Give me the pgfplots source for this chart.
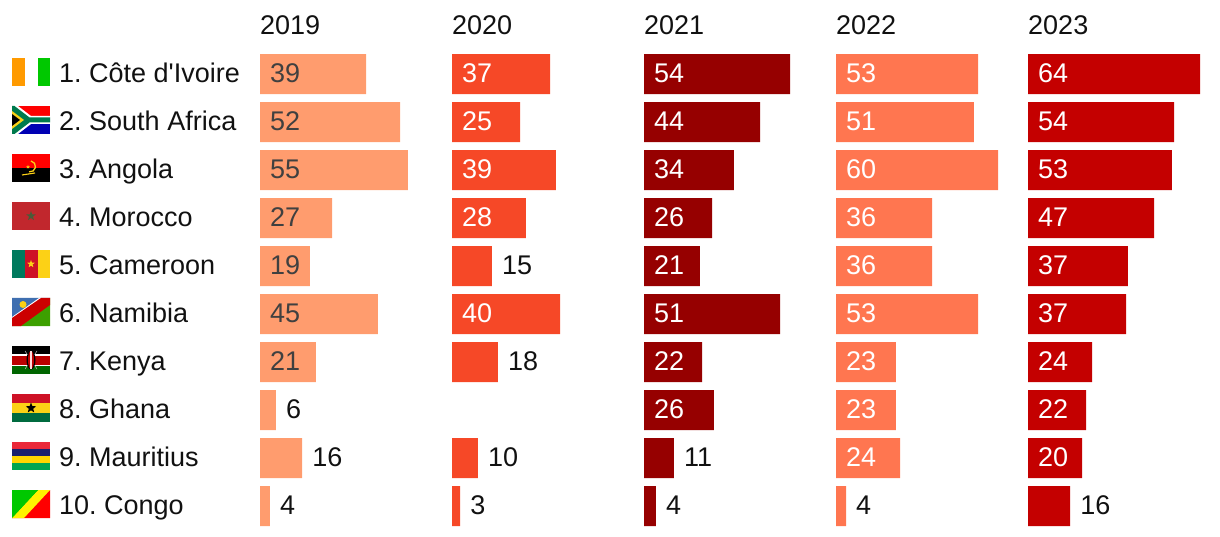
\documentclass[border=0pt]{standalone}
\usepackage{fontspec}
\usepackage{pgfplots}
\usepackage{pgfplotstable}
\pgfplotsset{compat=1.18}
\usetikzlibrary{shapes.geometric}
\newfontfamily\lab{Liberation Sans}
\frenchspacing

\definecolor{c19}{HTML}{FF9C6E}
\definecolor{c20}{HTML}{F64827}
\definecolor{c21}{HTML}{960000}
\definecolor{c22}{HTML}{FF7650}
\definecolor{c23}{HTML}{C40000}
\definecolor{ink}{HTML}{111111}
% flag colours
\definecolor{forange}{HTML}{FF9A00}
\definecolor{fgreen}{HTML}{00C800}
\definecolor{fred}{HTML}{FF0000}
\definecolor{fblue}{HTML}{0000B4}
\definecolor{zagreen}{HTML}{007A4D}
\definecolor{fyellow}{HTML}{FCD116}
\definecolor{mared}{HTML}{C1272D}
\definecolor{mastar}{HTML}{4A5A38}
\definecolor{cmgreen}{HTML}{007A5E}
\definecolor{cmred}{HTML}{CE1126}
\definecolor{nablue}{HTML}{3F6FB0}
\definecolor{nagreen}{HTML}{3DA000}
\definecolor{kered}{HTML}{BB0000}
\definecolor{kegreen}{HTML}{006600}
\definecolor{ghgreen}{HTML}{006B3F}
\definecolor{mured}{HTML}{EA2839}
\definecolor{mublue}{HTML}{1A206D}
\definecolor{muyellow}{HTML}{FFD500}
\definecolor{mugreen}{HTML}{00A551}

% w = bar length, l = printed label
\pgfplotstableread{
rank w19  l19 w20  l20 w21  l21 w22  l22 w23  l23
1    39.3 39  36.3 37  54.1 54  52.6 53  63.7 64
2    51.9 52  25.2 25  43.0 44  51.1 51  54.1 54
3    54.8 55  38.5 39  33.3 34  60.0 60  53.3 53
4    26.7 27  27.4 28  25.2 26  35.6 36  46.7 47
5    18.5 19  14.8 15  20.7 21  35.6 36  37.0 37
6    43.7 45  40.0 40  50.4 51  52.6 53  36.3 37
7    20.7 21  17.0 18  21.5 22  22.2 23  23.7 24
8    5.9  6   nan  nan 25.9 26  22.2 23  21.5 22
9    15.6 16  9.6  10  11.1 11  23.7 24  20.0 20
10   3.7  4   3.0  3   4.4  4   3.7  4   15.6 16
}\rows

\pgfplotsset{
  yearcol/.style={
    scale only axis, width=189pt, height=480pt,
    xmin=0, xmax=70, ymin=0.5, ymax=10.5, y dir=reverse,
    axis line style={draw=none}, major tick length=0pt,
    xtick=\empty, ytick=\empty, clip=false,
    unbounded coords=discard,
    title style={at={(axis description cs:0,1)}, anchor=base west,
      yshift=10pt, inner sep=0pt, xshift=0pt, font=\lab\fontsize{27}{30}\selectfont, text=ink},
  },
  vallabel/.style={
    only marks, mark=none, point meta=explicit symbolic,
    nodes near coords,
    every node near coord/.append style={anchor=west, inner sep=0pt, xshift=10pt,
      text height=16pt, text depth=0pt, font=\lab\fontsize{27}{30}\selectfont, text=#1},
  },
}

% #1 year, #2 width col, #3 label col, #4 bar colour, #5 text colour inside the bar
\newcommand\yearbars[5]{
  \addplot[xbar, bar width=40pt, bar shift=0pt, fill=#4, draw=none]
    table[x=#2, y=rank] {\rows};
  \addplot[vallabel=#5]
    table[x expr={\thisrow{#3}<19 ? nan : 0}, y=rank, meta=#3] {\rows};
  \addplot[vallabel=ink]
    table[x expr={\thisrow{#3}<19 ? \thisrow{#2} : nan}, y=rank, meta=#3] {\rows};
}

% flag box: 38 x 28 px, origin lower left
\newcommand\flag[2]{
  \begin{scope}[shift={(12pt,{(536-86-48*(#1-1))*1pt})}, x=1pt, y=1pt]
    \begin{scope}
      \clip (0,0) rectangle (38,28);
      #2
    \end{scope}
  \end{scope}
}
\newcommand\fstar[4]{\node[star, star points=5, star point ratio=2.4, fill=#1, inner sep=0pt, minimum size=#2pt] at (#3,#4) {};}

\begin{document}
\begin{tikzpicture}[x=1pt, y=1pt]
\path[use as bounding box] (0,0) rectangle (1220,536);

\begin{axis}[yearcol, at={(260pt,6pt)}, anchor=south west, title={2019},
    ytick={1,...,10},
    yticklabels={1. Côte d'Ivoire, 2. South Africa, 3. Angola, 4. Morocco, 5. Cameroon,
      6. Namibia, 7. Kenya, 8. Ghana, 9. Mauritius, 10. Congo},
    yticklabel style={anchor=west, xshift=-201pt, inner sep=0pt, text height=16pt, text depth=0pt,
      font=\lab\fontsize{27}{30}\selectfont, text=ink}]
  \yearbars{2019}{w19}{l19}{c19}{black!75}
\end{axis}
\begin{axis}[yearcol, at={(452pt,6pt)}, anchor=south west, title={2020}]
  \yearbars{2020}{w20}{l20}{c20}{white}
\end{axis}
\begin{axis}[yearcol, at={(644pt,6pt)}, anchor=south west, title={2021}]
  \yearbars{2021}{w21}{l21}{c21}{white}
\end{axis}
\begin{axis}[yearcol, at={(836pt,6pt)}, anchor=south west, title={2022}]
  \yearbars{2022}{w22}{l22}{c22}{white}
\end{axis}
\begin{axis}[yearcol, at={(1028pt,6pt)}, anchor=south west, title={2023}]
  \yearbars{2023}{w23}{l23}{c23}{white}
\end{axis}

% Cote d'Ivoire
\flag{1}{
  \fill[forange] (0,0) rectangle (13,28);
  \fill[fgreen] (25.5,0) rectangle (38,28);
}
% South Africa
\flag{2}{
  \fill[fred] (0,14) rectangle (38,28);
  \fill[fblue] (0,0) rectangle (38,14);
  \fill[white] (0,28) -- (6,28) -- (19,18) -- (38,18) -- (38,10) -- (19,10) -- (6,0) -- (0,0) -- cycle;
  \fill[zagreen] (0,28) -- (2.5,28) -- (17.5,16.5) -- (38,16.5) -- (38,11.5) -- (17.5,11.5) -- (2.5,0) -- (0,0) -- cycle;
  \fill[fyellow] (0,23) -- (12,14) -- (0,5) -- cycle;
  \fill[black] (0,20) -- (8,14) -- (0,8) -- cycle;
}
% Angola
\flag{3}{
  \fill[fred] (0,14) rectangle (38,28);
  \fill[black] (0,0) rectangle (38,14);
  \draw[fyellow, line width=1.3pt] (19,21) arc[start angle=80, end angle=-100, radius=5.5];
  \draw[fyellow, line width=1.1pt] (10,7) -- (23,9);
  \fstar{fyellow}{4}{16}{15}
}
% Morocco
\flag{4}{
  \fill[mared] (0,0) rectangle (38,28);
  \fstar{mastar}{10}{19}{14}
}
% Cameroon
\flag{5}{
  \fill[cmgreen] (0,0) rectangle (13,28);
  \fill[cmred] (13,0) rectangle (25.5,28);
  \fill[fyellow] (25.5,0) rectangle (38,28);
  \fstar{fyellow}{8}{19}{14}
}
% Namibia
\flag{6}{
  \fill[nablue] (0,0) -- (0,28) -- (38,28) -- cycle;
  \fill[nagreen] (0,0) -- (38,0) -- (38,28) -- cycle;
  \fill[white] (0,3) -- (0,9) -- (27,28) -- (38,28) -- (38,22) -- (8,0) -- (2,0) -- cycle;
  \fill[red!80!black] (0,0) -- (0,8) -- (29,28) -- (38,28) -- (38,21) -- (9,0) -- cycle;
  \fill[fyellow] (11,21.5) circle (3.5);
}
% Kenya
\flag{7}{
  \fill[black] (0,19) rectangle (38,28);
  \fill[kered] (0,9) rectangle (38,19);
  \fill[kegreen] (0,0) rectangle (38,9);
  \fill[white] (0,18.5) rectangle (38,20);
  \fill[white] (0,8) rectangle (38,9.5);
  \draw[white!75!black, line width=0.5pt] (13,23) -- (25,5) (25,23) -- (13,5);
  \fill[black] (19,14) ellipse (4.5 and 9.5);
  \fill[kered] (19,14) ellipse (3 and 9);
  \fill[white!85!red] (18.4,5) rectangle (19.6,23);
}
% Ghana
\flag{8}{
  \fill[cmred] (0,18.7) rectangle (38,28);
  \fill[fyellow] (0,9.3) rectangle (38,18.7);
  \fill[ghgreen] (0,0) rectangle (38,9.3);
  \fstar{black}{11}{19}{14}
}
% Mauritius
\flag{9}{
  \fill[mured] (0,21) rectangle (38,28);
  \fill[mublue] (0,14) rectangle (38,21);
  \fill[muyellow] (0,7) rectangle (38,14);
  \fill[mugreen] (0,0) rectangle (38,7);
}
% Congo
\flag{10}{
  \fill[fgreen] (0,0) -- (0,28) -- (38,28) -- cycle;
  \fill[fred] (38,0) -- (38,28) -- (0,0) -- cycle;
  \fill[yellow] (0,0) -- (12,0) -- (38,28) -- (26,28) -- cycle;
  \fill[fgreen] (0,28) -- (26,28) -- (0,0) -- cycle;
}
\end{tikzpicture}
\end{document}
